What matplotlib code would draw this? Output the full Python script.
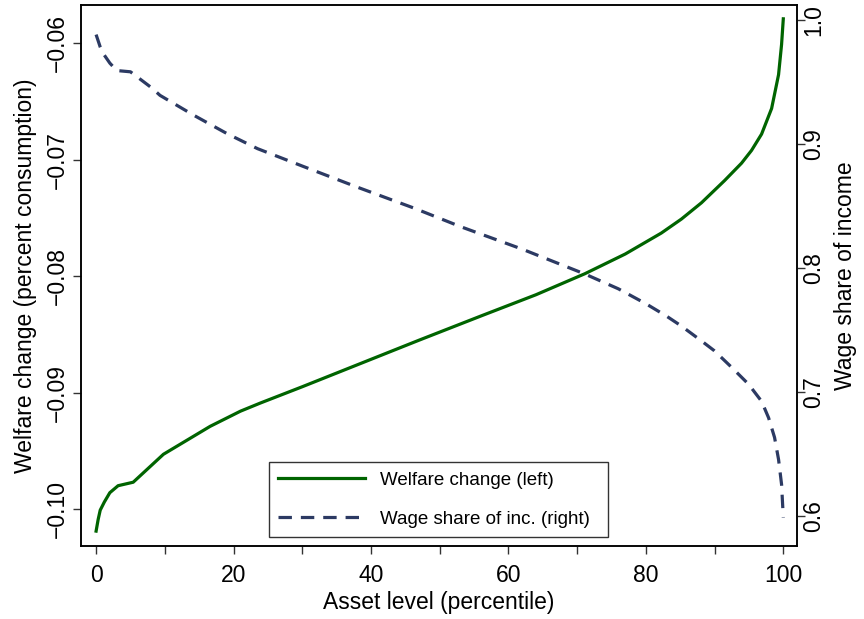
import numpy as np
import matplotlib
matplotlib.use('Agg')
import matplotlib.pyplot as plt

plt.rcParams['font.family'] = ['Liberation Sans', 'DejaVu Sans']

# welfare change (left axis)
welfare_pct = [0, 0.3, 0.6, 1.2, 2.0, 3.2, 5.4, 9.8, 16.6, 21.0, 23.9, 30, 38.5,
               47, 56.1, 64, 71.1, 77, 82.25, 85.17, 88.09, 91.44, 93.92, 95.38,
               96.84, 98.3, 99.31, 99.75, 100]
welfare = [-0.1019, -0.1009, -0.1001, -0.0994, -0.0986, -0.0980, -0.0977, -0.0953,
           -0.0929, -0.0916, -0.0909, -0.0895, -0.0875, -0.0855, -0.0834, -0.0816,
           -0.0798, -0.0781, -0.0763, -0.0751, -0.0737, -0.0718, -0.0703, -0.0692,
           -0.0678, -0.0656, -0.0627, -0.0601, -0.0579]

# wage share of income (right axis)
wage_pct = [0, 0.6, 1.0, 2.0, 3.0, 5.0, 8.1, 9.3, 14.2, 19.1, 23.5, 30, 38, 46.3,
            53.1, 62, 71.1, 76, 80, 83, 85.17, 88.09, 89.98, 92.46, 94.94, 96.84,
            97.86, 98.73, 99.31, 99.75, 100]
wage_share = [0.988, 0.978, 0.973, 0.965, 0.959, 0.958, 0.945, 0.939, 0.923, 0.908,
              0.896, 0.882, 0.865, 0.848, 0.833, 0.815, 0.795, 0.783, 0.771, 0.761,
              0.753, 0.741, 0.733, 0.7198, 0.7061, 0.6923, 0.6790, 0.6631, 0.6454,
              0.6252, 0.5986]

x_ticks = [0, 20, 40, 60, 80, 100]
x_minor = [10, 30, 50, 70, 90]
left_ticks = [-0.10, -0.09, -0.08, -0.07, -0.06]
left_labels = ['\u22120.10', '\u22120.09', '\u22120.08', '\u22120.07', '\u22120.06']
right_ticks = [0.6, 0.7, 0.8, 0.9, 1.0]
right_labels = ['0.6', '0.7', '0.8', '0.9', '1.0']

green = '#006400'
navy = '#2c3a63'

fig = plt.figure(figsize=(8.64, 6.19), dpi=100)
ax = fig.add_axes([0.0938, 0.1179, 0.8287, 0.8735])
ax2 = ax.twinx()

l1, = ax.plot(welfare_pct, welfare, color=green, lw=2.3,
              label='Welfare change (left)')
l2, = ax2.plot(wage_pct, wage_share, color=navy, lw=2.3, dashes=(4.2, 2.8),
               label='Wage share of inc. (right)')

ax.set_xlim(-2.19, 102.0)
ax.set_ylim(-0.10318, -0.05674)
ax2.set_ylim(0.5756, 1.0116)

fs = 16.5
ax.set_xticks(x_ticks)
ax.set_xticks(x_minor, minor=True)
ax.set_yticks(left_ticks)
ax.set_yticklabels(left_labels, rotation=90, va='center')
ax2.set_yticks(right_ticks)
ax2.set_yticklabels(right_labels, rotation=90, va='center')

for a in (ax, ax2):
    a.tick_params(which='both', direction='out', length=6, width=1, color='#333333',
                  labelsize=fs, pad=3)
    for s in a.spines.values():
        s.set_linewidth(1.1)
ax.tick_params(axis='x', pad=7)
ax2.tick_params(axis='y', pad=-2.5)

ax.set_xlabel('Asset level (percentile)', fontsize=fs, labelpad=3)
ax.set_ylabel('Welfare change (percent consumption)', fontsize=fs, labelpad=6)
ax2.set_ylabel('Wage share of income', fontsize=fs, labelpad=6.5)

leg = ax2.legend(handles=[l1, l2], loc='lower left',
                 bbox_to_anchor=(0.2626, 0.0166, 0.4735, 0.14), mode='expand',
                 fontsize=13.5, frameon=True, fancybox=False, edgecolor='black',
                 handlelength=4.64, handletextpad=0.78, labelspacing=1.15,
                 borderpad=0.5, borderaxespad=0)
leg.get_frame().set_linewidth(1.0)

fig.savefig('out.png', dpi=100)
